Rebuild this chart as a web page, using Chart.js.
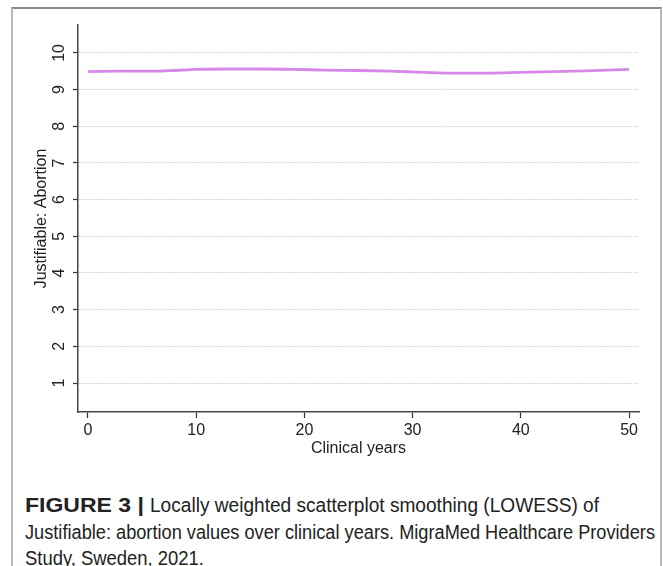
<!DOCTYPE html>
<html>
<head>
    <meta charset="utf-8">
    <title>LOWESS Justifiable Abortion</title>
    <script src="https://cdn.jsdelivr.net/npm/chart.js"></script>
    <style>
        body { margin: 0; background: #fff; }
        #frame {
            position: absolute; left: 11px; top: 7px; width: 647px; height: 600px;
            border: 2px solid #b8b8b8; border-top-color: #8c8c8c;
        }
        #wrap { position: absolute; left: 0; top: 0; width: 663px; height: 470px; }
        .cap {
            position: absolute; white-space: nowrap;
            font-family: "Liberation Sans", Arial, sans-serif;
            font-size: 20px; line-height: 26px; color: #222;
            transform-origin: 0 0;
        }
    </style>
</head>
<body>
<div id="frame"></div>
<div id="wrap">
    <canvas id="lineChart"></canvas>
</div>
<div class="cap" style="left:25px; top:492px; font-weight:bold; font-size:20.5px;" data-w="119">FIGURE 3 |</div>
<div class="cap" style="left:150px; top:492px;" data-w="449">Locally weighted scatterplot smoothing (LOWESS) of</div>
<div class="cap" style="left:25px; top:519px;" data-w="630">Justifiable: abortion values over clinical years. MigraMed Healthcare Providers</div>
<div class="cap" style="left:25px; top:545px;" data-w="179">Study, Sweden, 2021.</div>

<script>
    // values
    const years = [0, 3, 6, 8, 10, 13, 16, 19, 22, 25, 28, 31, 34, 37, 40, 43, 46, 50];
    const justifiable = [9.49, 9.50, 9.50, 9.52, 9.55, 9.56, 9.56, 9.55, 9.53, 9.52, 9.50, 9.47, 9.45, 9.45, 9.47, 9.49, 9.51, 9.55];
    const xTicks = [0, 10, 20, 30, 40, 50];
    const yTicks = [1, 2, 3, 4, 5, 6, 7, 8, 9, 10];

    // caption font in the figure is narrower, squeeze each piece to its width
    document.querySelectorAll('.cap').forEach(el => {
        const k = Number(el.dataset.w) / el.getBoundingClientRect().width;
        el.style.transform = 'scaleX(' + k + ')';
    });

    const ctx = document.getElementById('lineChart').getContext('2d');
    const axisFont = { family: "'Liberation Sans', Arial, sans-serif", size: 16 };

    new Chart(ctx, {
        type: 'line',
        data: {
            datasets: [{
                data: years.map((x, i) => ({ x: x, y: justifiable[i] })),
                borderColor: '#d787e8',
                borderWidth: 2.8,
                pointRadius: 0,
                fill: false,
                cubicInterpolationMode: 'monotone'
            }]
        },
        options: {
            responsive: true,
            maintainAspectRatio: false,
            animation: false,
            layout: { padding: { top: 25, right: 24, left: 0, bottom: 0 } },
            plugins: { legend: { display: false }, tooltip: { enabled: false } },
            scales: {
                x: {
                    type: 'linear',
                    min: -0.92,
                    max: 50.92,
                    afterBuildTicks: s => { s.ticks = xTicks.map(v => ({ value: v })); },
                    afterFit: s => { s.height = 58; },
                    grid: { drawOnChartArea: false, tickLength: 6, tickColor: '#333', tickWidth: 1.2 },
                    border: { color: '#444', width: 1.5 },
                    ticks: { font: axisFont, color: '#222', padding: 3, maxRotation: 0 },
                    title: { display: true, text: 'Clinical years', font: axisFont, color: '#222', padding: { top: 0, bottom: 12 } }
                },
                y: {
                    min: 0.21,
                    max: 10.76,
                    afterBuildTicks: s => { s.ticks = yTicks.map(v => ({ value: v })); },
                    afterFit: s => { s.width = 78; },
                    grid: { color: '#b0b0b0', lineWidth: 1, tickLength: 5, tickColor: '#333', tickWidth: 1.2 },
                    border: { color: '#444', width: 1.5, dash: [1, 2] },
                    ticks: { font: axisFont, color: '#222', padding: 5, minRotation: 90, maxRotation: 90, crossAlign: 'center' },
                    title: { display: true, text: 'Justifiable: Abortion', font: axisFont, color: '#222', padding: { top: 32, bottom: 0 } }
                }
            }
        }
    });
</script>
</body>
</html>
